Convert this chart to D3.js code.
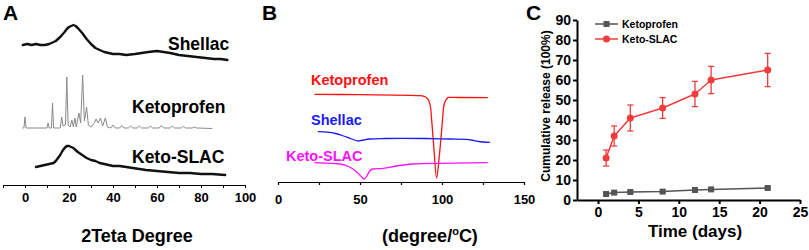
<!DOCTYPE html>
<html lang="en">
<head>
    <meta charset="UTF-8">
    <title>XRD, DSC and release</title>
    <script src="https://d3js.org/d3.v7.min.js"></script>
    <style>
        body {
            margin: 0;
            background: #fff;
            font-family: "Liberation Sans", Arial, Helvetica, sans-serif;
        }
        text {
            font-weight: bold;
        }
        .line {
            fill: none;
            stroke-linejoin: round;
            stroke-linecap: round;
        }
    </style>
</head>
<body>
    <svg width="809" height="250"></svg>

    <script>
        // ---- A: XRD patterns, [2theta, intensity]
        const xrdShellac = [[-1,140],[1,141],[3,140],[5,141],[7,140],[9,140],[11,141],[12,142],[14,144],[16,148],[18,153],[19,156],[20,158],[21,159],[22,160],[23,159],[24,157],[26,152],[28,146],[30,141],[32,137],[34,135],[36,133],[38,132],[40,131],[43,131],[46,130],[50,131],[53,132],[56,133],[60,134],[63,133],[66,132],[70,130],[74,129],[78,128],[82,127],[86,126],[89,126],[92,125]];
        const xrdKeto = [[-1,57],[-0.5,57],[0,68],[0.5,57],[10,57],[10.5,62],[11,57],[12,57],[12.5,82],[13,57],[16,57],[16.7,68],[17.3,59],[18.4,60],[19,108],[19.6,60],[20.5,58],[21.3,65],[22,58],[22.7,67],[23.3,58],[24.5,72],[25.3,62],[26.2,110],[27,64],[28,78],[28.8,60],[30,58],[31.5,62],[32.3,66],[33.2,62],[34.3,67],[35.3,59],[36.5,67],[37.5,58],[39,57],[40,60],[41,57],[43,57],[44,59.5],[45,57],[47,57],[48,59],[49,57],[51,57],[52,59],[53,57],[56,57],[57,59],[58,57],[61,57],[62,59.5],[63,57],[66,57],[67,59],[68,57],[71,57],[72,58.5],[73,57],[76,57],[77,58],[78,57],[85,56.5]];
        const xrdSlac = [[5,18],[7,19],[9,20],[11,21],[13,22],[14,24],[15,27],[16,30],[17,34],[18,37],[19,39],[20,39],[21,38],[22,37],[24,33],[26,30],[28,27],[30,25],[32,24],[34,22],[36,21],[38,20],[40,19],[43,19],[46,18],[49,17],[52,16],[55,15],[60,14],[65,13],[70,12],[75,12],[80,11],[85,11],[91,10]];
        const xrdTicks = [-10, 0, 10, 20, 30, 40, 50, 60, 70, 80, 90, 100];

        // ---- B: DSC curves, [temperature, heat flow]
        const dscKeto = [[22.5,87.7],[50,87.3],[80,86.7],[87,86.3],[90,85],[91.7,82],[93,75],[93.7,62],[95,35],[96.7,4],[98.3,25],[99.8,52],[101,75],[101.8,80],[103,83.5],[104,84.7],[110,84.5],[127.6,84.3]];
        const dscShellac = [[24.6,50.3],[30,49.8],[35,48.5],[40,46],[45,43],[49,41],[52,42],[56,43],[65,43.5],[75,43.7],[90,43.5],[105,43],[115,42.7],[118,42],[121,41],[125,40],[129,39.7]];
        const dscSlac = [[22.5,19.3],[30,18.8],[37.8,18],[43.9,14.7],[48,10],[51,5],[52.6,3],[54.5,7],[56,11.3],[58,13],[64.2,13.7],[72,16],[82.5,18],[98.8,18.7],[127.6,19.3]];
        const dscTicks = [0, 25, 50, 75, 100, 125, 150];

        // ---- C: cumulative release
        const days = [1, 2, 4, 8, 12, 14, 21];
        const ketoRelease = [3, 3.7, 4, 4.2, 5, 5.3, 6];
        const ketoErr = [0.4, 0.4, 0.4, 0.4, 0.5, 0.5, 0.5];
        const slacRelease = [21, 32, 41, 46, 53, 60, 65];
        const slacErr = [4, 5, 6.5, 5.2, 6.3, 6.8, 8.3];
        const dayTicks = [0, 5, 10, 15, 20, 25];
        const releaseTicks = [0, 10, 20, 30, 40, 50, 60, 70, 80, 90];

        const svg = d3.select("svg");

        function styleAxis(g, size, width) {
            g.selectAll("path, line").attr("stroke", "#000").attr("stroke-width", width);
            g.selectAll("text").attr("fill", "#000").style("font-size", size + "px").style("font-weight", "bold");
        }

        // panel letters
        svg.append("text").attr("x", 3).attr("y", 20).style("font-size", "21px").text("A");
        svg.append("text").attr("x", 262).attr("y", 20).style("font-size", "21px").text("B");
        svg.append("text").attr("x", 526).attr("y", 20).style("font-size", "21px").text("C");

        // ================= A =================
        const xA = d3.scaleLinear().domain([-10, 100]).range([3, 245]);
        const yA = d3.scaleLinear().domain([0, 165]).range([185, 20]);

        svg.append("g")
            .attr("transform", "translate(0,185)")
            .call(d3.axisBottom(xA).tickValues(xrdTicks).tickSize(3).tickSizeOuter(0).tickPadding(5)
                .tickFormat(d => (d >= 0 && d % 20 === 0) ? d : ""))
            .call(g => styleAxis(g, 13, 1));

        const lineA = d3.line().x(d => xA(d[0])).y(d => yA(d[1]));

        svg.append("path").datum(xrdShellac).attr("class", "line")
            .attr("d", lineA).attr("stroke", "#111").attr("stroke-width", 2.4);
        svg.append("path").datum(xrdKeto).attr("class", "line")
            .attr("d", lineA).attr("stroke", "#8a8a8a").attr("stroke-width", 1);
        svg.append("path").datum(xrdSlac).attr("class", "line")
            .attr("d", lineA).attr("stroke", "#111").attr("stroke-width", 2.4);

        svg.append("text").attr("x", 168).attr("y", 50).style("font-size", "17.5px").text("Shellac");
        svg.append("text").attr("x", 132).attr("y", 113).style("font-size", "17.5px").text("Ketoprofen");
        svg.append("text").attr("x", 132).attr("y", 163).style("font-size", "17.5px").text("Keto-SLAC");

        svg.append("text").attr("x", 137).attr("y", 242).attr("text-anchor", "middle")
            .style("font-size", "18px").text("2Teta Degree");

        // ================= B =================
        const xB = d3.scaleLinear().domain([0, 150]).range([278, 524]);
        const yB = d3.scaleLinear().domain([0, 165]).range([182, 17]);

        svg.append("g")
            .attr("transform", "translate(0,182)")
            .call(d3.axisBottom(xB).tickValues(dscTicks).tickSize(3).tickSizeOuter(0).tickPadding(10)
                .tickFormat(d => d % 50 === 0 ? d : ""))
            .call(g => styleAxis(g, 13, 1.2));

        const lineB = d3.line().x(d => xB(d[0])).y(d => yB(d[1])).curve(d3.curveMonotoneX);

        svg.append("path").datum(dscKeto).attr("class", "line")
            .attr("d", lineB).attr("stroke", "#ff1010").attr("stroke-width", 1.3);
        svg.append("path").datum(dscShellac).attr("class", "line")
            .attr("d", lineB).attr("stroke", "#1a1aff").attr("stroke-width", 1.3);
        svg.append("path").datum(dscSlac).attr("class", "line")
            .attr("d", lineB).attr("stroke", "#ff10ff").attr("stroke-width", 1.3);

        svg.append("text").attr("x", 311).attr("y", 85).attr("fill", "#ff1010").style("font-size", "14.5px").text("Ketoprofen");
        svg.append("text").attr("x", 311).attr("y", 125).attr("fill", "#1a1aff").style("font-size", "14.5px").text("Shellac");
        svg.append("text").attr("x", 286).attr("y", 161).attr("fill", "#ff10ff").style("font-size", "14.5px").text("Keto-SLAC");

        const titleB = svg.append("text").attr("x", 430).attr("y", 242).attr("text-anchor", "middle")
            .style("font-size", "18px");
        titleB.append("tspan").text("(degree/");
        titleB.append("tspan").attr("dy", -7).style("font-size", "11px").text("o");
        titleB.append("tspan").attr("dy", 7).text("C)");

        // ================= C =================
        const xC = d3.scaleLinear().domain([-2.6, 25]).range([577, 800]);
        const yC = d3.scaleLinear().domain([0, 90]).range([200, 20]);

        svg.append("g")
            .attr("transform", "translate(0,200)")
            .call(d3.axisBottom(xC).tickValues(dayTicks).tickSize(4).tickSizeOuter(0).tickPadding(3))
            .call(g => styleAxis(g, 14, 2));

        svg.append("g")
            .attr("transform", "translate(577,0)")
            .call(d3.axisLeft(yC).tickValues(releaseTicks).tickSize(4).tickSizeOuter(0).tickPadding(2))
            .call(g => styleAxis(g, 14, 2));

        const series = [
            { name: "Ketoprofen", values: ketoRelease, err: ketoErr, color: "#555555", shape: "square" },
            { name: "Keto-SLAC", values: slacRelease, err: slacErr, color: "#f23c3c", shape: "circle" }
        ];

        const lineC = d3.line().x(d => xC(d.day)).y(d => yC(d.v));

        series.forEach((s, i) => {
            const pts = days.map((day, j) => ({ day: day, v: s.values[j], e: s.err[j] }));
            const g = svg.append("g");

            g.append("path").datum(pts).attr("class", "line")
                .attr("d", lineC).attr("stroke", s.color).attr("stroke-width", 1.5);

            // error bars
            const eb = g.selectAll(".err").data(pts).enter().append("g");
            eb.append("line")
                .attr("x1", d => xC(d.day)).attr("x2", d => xC(d.day))
                .attr("y1", d => yC(d.v - d.e)).attr("y2", d => yC(d.v + d.e))
                .attr("stroke", s.color).attr("stroke-width", 1.3);
            [-1, 1].forEach(sign => {
                eb.append("line")
                    .attr("x1", d => xC(d.day) - 3).attr("x2", d => xC(d.day) + 3)
                    .attr("y1", d => yC(d.v + sign * d.e)).attr("y2", d => yC(d.v + sign * d.e))
                    .attr("stroke", s.color).attr("stroke-width", 1.3);
            });

            if (s.shape === "square") {
                g.selectAll(".mk").data(pts).enter().append("rect")
                    .attr("x", d => xC(d.day) - 3).attr("y", d => yC(d.v) - 3)
                    .attr("width", 6).attr("height", 6).attr("fill", s.color);
            } else {
                g.selectAll(".mk").data(pts).enter().append("circle")
                    .attr("cx", d => xC(d.day)).attr("cy", d => yC(d.v))
                    .attr("r", 3.5).attr("fill", s.color);
            }

            // legend
            const ly = 24 + i * 15;
            svg.append("line").attr("x1", 595).attr("x2", 618).attr("y1", ly).attr("y2", ly)
                .attr("stroke", s.color).attr("stroke-width", 1.5);
            if (s.shape === "square") {
                svg.append("rect").attr("x", 603.5).attr("y", ly - 3).attr("width", 6).attr("height", 6).attr("fill", s.color);
            } else {
                svg.append("circle").attr("cx", 606.5).attr("cy", ly).attr("r", 3.5).attr("fill", s.color);
            }
            svg.append("text").attr("x", 622).attr("y", ly + 4).style("font-size", "10.5px").text(s.name);
        });

        svg.append("text")
            .attr("transform", "translate(550,106) rotate(-90)")
            .attr("text-anchor", "middle").style("font-size", "12px")
            .text("Cumulative release (100%)");

        svg.append("text").attr("x", 695).attr("y", 237).attr("text-anchor", "middle")
            .style("font-size", "17px").text("Time (days)");
    </script>
</body>
</html>
